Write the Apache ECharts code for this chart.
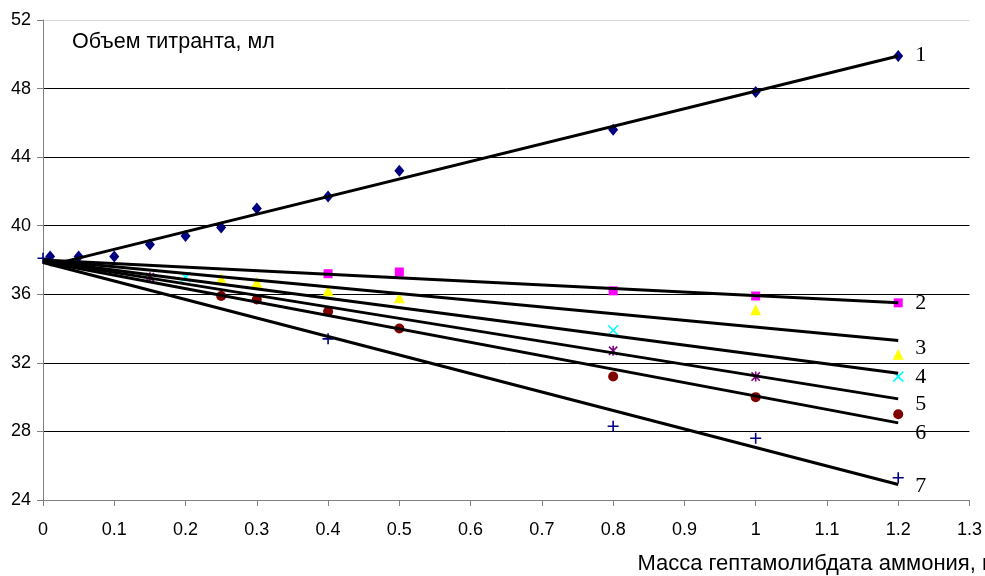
<!DOCTYPE html>
<html>
<head>
<meta charset="utf-8">
<script src="https://cdn.jsdelivr.net/npm/echarts@6/dist/echarts.min.js"></script>
<style>html,body{margin:0;padding:0;background:#fff}#c{width:985px;height:576px}</style>
</head>
<body>
<div id="c"></div>
<script>
// ---- data ----
const xTicks = [0, 0.1, 0.2, 0.3, 0.4, 0.5, 0.6, 0.7, 0.8, 0.9, 1, 1.1, 1.2, 1.3];
const yTicks = [24, 28, 32, 36, 40, 44, 48, 52];

const s1X = [0.01, 0.05, 0.1, 0.15, 0.2, 0.25, 0.3, 0.4, 0.5, 0.8, 1.0, 1.2];
const s1Y = [38.2, 38.2, 38.2, 38.9, 39.4, 39.9, 41.0, 41.7, 43.2, 45.6, 47.8, 49.9];
const s2X = [0.4, 0.5, 0.8, 1.0, 1.2];
const s2Y = [37.2, 37.3, 36.2, 35.9, 35.5];
const s3X = [0.25, 0.3, 0.4, 0.5, 1.0, 1.2];
const s3Y = [36.9, 36.7, 36.2, 35.8, 35.1, 32.5];
const s4X = [0.2, 0.8, 1.2];
const s4Y = [37.0, 33.9, 31.2];
const s5X = [0.15, 0.8, 1.0];
const s5Y = [37.0, 32.7, 31.2];
const s6X = [0.25, 0.3, 0.4, 0.5, 0.8, 1.0, 1.2];
const s6Y = [35.9, 35.7, 35.0, 34.0, 31.2, 30.0, 29.0];
const s7X = [0, 0.4, 0.8, 1.0, 1.2];
const s7Y = [38.1, 33.4, 28.3, 27.6, 25.3];

// trend lines (start / end)
const trendX0 = [0.01, 0, 0, 0, 0, 0, 0];
const trendY0 = [37.7, 38.0, 38.0, 37.95, 37.95, 37.9, 37.85];
const trendX1 = [1.2, 1.2, 1.2, 1.2, 1.2, 1.2, 1.2];
const trendY1 = [49.9, 35.5, 33.3, 31.4, 29.9, 28.5, 24.9];
const trendLabels = ['1', '2', '3', '4', '5', '6', '7'];

const titleText = 'Объем титранта, мл';
const xName = 'Масса гептамолибдата аммония, г';

// ---- styles ----
const labelOffsets = [[12, -1], [12, 0], [12, 8], [12, 4], [12, 5], [12, 10], [12, 2]];
const markers = [
  {symbol: 'diamond', size: [10, 12], color: '#000080', stroke: false},
  {symbol: 'rect', size: 9, color: '#FF00FF', stroke: false},
  {symbol: 'triangle', size: 11, color: '#FFFF00', stroke: false},
  {symbol: 'path://M0,0L10,10M10,0L0,10', size: 10, color: '#00FFFF', stroke: true},
  {symbol: 'path://M0,0L10,10M10,0L0,10M5,-1L5,11', size: 10, color: '#800080', stroke: true},
  {symbol: 'circle', size: 10, color: '#800000', stroke: false},
  {symbol: 'path://M5,0L5,10M0,5L10,5', size: 11, color: '#000080', stroke: true}
];

const sx = [s1X, s2X, s3X, s4X, s5X, s6X, s7X];
const sy = [s1Y, s2Y, s3Y, s4Y, s5Y, s6Y, s7Y];

const series = [];
sx.forEach((xs, i) => {
  const m = markers[i];
  series.push({
    type: 'scatter',
    data: xs.map((x, k) => [x, sy[i][k]]),
    symbol: m.symbol,
    symbolSize: m.size,
    symbolKeepAspect: true,
    z: 2 + i * 0.01,
    itemStyle: m.stroke
      ? {color: 'rgba(0,0,0,0)', borderColor: m.color, borderWidth: 1.6, opacity: 1}
      : {color: m.color, opacity: 1},
    emphasis: {disabled: true},
    silent: true
  });
});
trendY0.forEach((y0, i) => {
  series.push({
    type: 'line',
    data: [[trendX0[i], y0], [trendX1[i], trendY1[i]]],
    showSymbol: false,
    symbol: 'none',
    lineStyle: {color: '#000', width: 3},
    endLabel: {show: true, formatter: trendLabels[i], offset: labelOffsets[i], distance: 5,
               fontFamily: 'Liberation Serif, Times New Roman, serif', fontSize: 22, color: '#000'},
    z: 5,
    silent: true,
    animation: false
  });
});

const chart = echarts.init(document.getElementById('c'), null, {renderer: 'canvas'});
chart.setOption({
  animation: false,
  backgroundColor: '#fff',
  grid: {left: 43, right: 14, top: 20, bottom: 76, containLabel: false},
  xAxis: {
    type: 'value',
    min: xTicks[0], max: xTicks[xTicks.length - 1], interval: 0.1,
    axisLine: {show: true, onZero: false, lineStyle: {color: '#808080', width: 1}},
    axisTick: {show: true, inside: false, length: 6, lineStyle: {color: '#808080'}},
    axisLabel: {color: '#000', fontFamily: 'Liberation Sans, Arial, sans-serif', fontSize: 18, margin: 21,
      formatter: v => String(Math.round(v * 10) / 10)},
    splitLine: {show: false}
  },
  yAxis: {
    type: 'value',
    min: yTicks[0], max: yTicks[yTicks.length - 1], interval: 4,
    axisLine: {show: true, onZero: false, lineStyle: {color: '#808080', width: 1}},
    axisTick: {show: true, inside: false, length: 6, lineStyle: {color: '#808080'}},
    axisLabel: {color: '#000', fontFamily: 'Liberation Sans, Arial, sans-serif', fontSize: 18, margin: 12},
    splitLine: {show: true, lineStyle: {color: ['#000', '#000', '#000', '#000', '#000', '#000', '#000', '#d8d8d8'], width: 1}}
  },
  graphic: [
    {type: 'text', left: 72, top: 31, style: {text: titleText, font: '21.5px "Liberation Sans", Arial, sans-serif', fill: '#000'}},
    {type: 'text', right: -5, top: 553, style: {text: xName, font: '22px "Liberation Sans", Arial, sans-serif', fill: '#000'}}
  ],
  series: series
});
</script>
</body>
</html>
